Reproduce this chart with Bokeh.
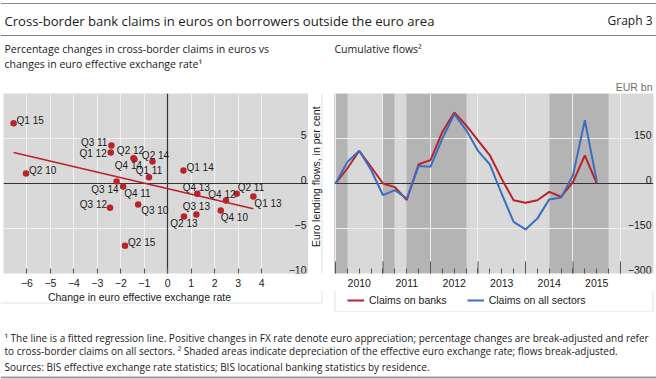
from bokeh.plotting import figure
from bokeh.layouts import column, row
from bokeh.models import (Range1d, ColumnDataSource, Label, Legend, LegendItem,
                          FixedTicker, CustomJSTickFormatter)
from bokeh.core.properties import value
from bokeh.embed import file_html
from bokeh.resources import INLINE
import numpy as np

# ---------------- data: left panel (scatter) ----------------
quarters = ["Q2 10", "Q3 10", "Q4 10", "Q1 11", "Q2 11", "Q3 11", "Q4 11",
            "Q1 12", "Q2 12", "Q3 12", "Q4 12", "Q1 13", "Q2 13", "Q3 13",
            "Q4 13", "Q1 14", "Q2 14", "Q3 14", "Q4 14", "Q1 15", "Q2 15"]
fx_change = [-6.04, -1.26, 2.26, -0.80, 2.94, -2.40, -1.90,
             -2.43, -1.46, -2.46, 2.48, 3.65, 0.69, 1.22,
             1.26, 0.67, -0.65, -2.18, -1.42, -6.57, -1.82]
claims_change = [1.11, -2.33, -3.00, 0.70, -1.14, 4.22, -0.33,
                 3.44, 2.81, -2.70, -1.89, -1.44, -3.67, -3.44,
                 -1.14, 1.44, 2.44, 0.22, 2.70, 6.70, -6.92]
left_xticks = [-6, -5, -4, -3, -2, -1, 0, 1, 2, 3, 4]
left_yticks = [5, 0, -5, -10]
left_ytick_labels = ["5", "0", "\u22125", "\u221210"]

# ---------------- data: right panel (cumulative flows) ----------------
flow_dates = [2010.0, 2010.25, 2010.5, 2010.75, 2011.0, 2011.25, 2011.5, 2011.75,
              2012.0, 2012.25, 2012.5, 2012.75, 2013.0, 2013.25, 2013.5, 2013.75,
              2014.0, 2014.25, 2014.5, 2014.75, 2015.0, 2015.25, 2015.5]
claims_banks = [0, 50, 109, 55, 0, -12, -55, 64, 78, 172, 237, 194, 144, 94,
                15, -56, -64, -56, -28, -44, 5, 94, 0]
claims_all = [0, 72, 109, 45, -39, -22, -50, 58, 56, 150, 231, 178, 109, 64,
              -35, -128, -153, -117, -53, -47, 28, 211, 8]
shade_start = [2009.75, 2011.0, 2011.5, 2014.5]
shade_end = [2010.25, 2011.25, 2012.75, 2015.75]
year_bounds = [2010, 2011, 2012, 2013, 2014, 2015, 2016]
year_mids = [2010.5, 2011.5, 2012.5, 2013.5, 2014.5, 2015.5]
quarter_ticks = [2010 + q / 4 for q in range(25)]
right_yticks = [150, 0, -150, -300]
right_ytick_labels = ["150", "0", "\u2212150", "\u2212300"]
series_names = ["Claims on banks", "Claims on all sectors"]

# ---------------- styles ----------------
RED = "#b9232d"
BLUE = "#3b6fbd"
BG = "#d9d9d9"
SHADE = "#b4b4b4"
DARK = "#333333"
TXT = "#1a1a1a"
BOX = "#e0e0e0"
CF = "Liberation Sans"
HF = "Open Sans"

# label placement (align, dx px, dy px upward) -- styling only
label_pos = {
    "Q1 15": ("left", 3, 3), "Q2 10": ("left", 3, 3), "Q3 11": ("right", -4, 3),
    "Q1 12": ("right", -4, -1), "Q2 12": ("center", -3, 8), "Q2 14": ("center", 3, 6),
    "Q4 14": ("center", -6, -6), "Q1 11": ("center", 0, 7), "Q3 14": ("right", 2, -8),
    "Q4 11": ("left", 1, -7), "Q3 12": ("right", -3, 3), "Q3 10": ("left", 3, -6),
    "Q2 15": ("left", 3, 3), "Q1 14": ("left", 3, 3), "Q4 13": ("center", -1, 6),
    "Q4 12": ("center", -4, 6), "Q2 11": ("left", 1, 6), "Q1 13": ("left", 1, -7),
    "Q3 13": ("center", 0, 8), "Q2 13": ("center", 0, -7), "Q4 10": ("left", 0, -7),
}

W = 656
H_HEAD = 91
H_MID = 199
H_SUB = 22
H_FOOT = 67


def blank(width, height):
    f = figure(width=width, height=height, x_range=Range1d(0, width), y_range=Range1d(height, 0),
               x_axis_location=None, y_axis_location=None, toolbar_location=None,
               output_backend="svg", min_border=0, outline_line_color=None, title=None)
    f.grid.visible = False
    return f


# ---------------- header ----------------
head = blank(W, H_HEAD)
head.line(x=[0, W], y=[3, 3], line_color="#8c8c8c", line_width=1)
head.line(x=[0, W], y=[35, 35], line_color="#7f7f7f", line_width=1)
head.add_layout(Label(x=4, y=20, text="Cross-border bank claims in euros on borrowers outside the euro area",
                      text_font=HF, text_font_size="13.1px", text_baseline="middle", text_color=TXT))
head.add_layout(Label(x=652, y=20, text="Graph 3", text_font=HF, text_font_size="12px",
                      text_baseline="middle", text_align="right", text_color=TXT))
head.add_layout(Label(x=4, y=48, text="Percentage changes in cross-border claims in euros vs",
                      text_font=HF, text_font_size="10.5px", text_baseline="middle", text_color=TXT))
head.add_layout(Label(x=4, y=63, text="changes in euro effective exchange rate\u00b9",
                      text_font=HF, text_font_size="10.5px", text_baseline="middle", text_color=TXT))
head.add_layout(Label(x=334, y=48, text="Cumulative flows\u00b2",
                      text_font=HF, text_font_size="10.5px", text_baseline="middle", text_color=TXT))
head.add_layout(Label(x=652, y=86, text="EUR bn", text_align="right",
                      text_baseline="middle", text_font=CF, text_font_size="10.5px",
                      text_color="#6e6e6e"))

# ---------------- left panel ----------------
left = figure(width=308, height=H_MID, x_range=Range1d(-7, 6), y_range=Range1d(-10, 10),
              x_axis_location="below", y_axis_location=None, toolbar_location=None,
              output_backend="svg", min_border_left=3, min_border_right=0,
              min_border_top=2, min_border_bottom=17, outline_line_color=None,
              background_fill_color=BG, title=None)
left.grid.visible = False
left.vspan(x=left_xticks, line_color="#f2f2f2", line_width=1)
left.hspan(y=[t for t in left_yticks if t not in (0, -10)], line_color="#f2f2f2", line_width=1)
left.vspan(x=[0], line_color=DARK, line_width=1.2)
left.hspan(y=[0], line_color=DARK, line_width=1.2)

slope, intercept = np.polyfit(fx_change, claims_change, 1)
xfit = np.array([min(fx_change), max(fx_change)])
left.line(x=xfit, y=slope * xfit + intercept, line_color=RED, line_width=1.6)

src = ColumnDataSource(dict(
    x=fx_change, y=claims_change, lab=quarters,
    align=[label_pos[q][0] for q in quarters],
    dx=[label_pos[q][1] for q in quarters],
    dy=[-label_pos[q][2] for q in quarters]))
left.scatter("x", "y", source=src, size=6.5, fill_color=RED, line_color=None)
left.text("x", "y", text="lab", source=src, x_offset="dx", y_offset="dy",
          text_align="align", text_baseline="middle", text_font=value(CF),
          text_font_size="10px", text_color=TXT)

left.text(x=[6] * len(left_yticks), y=left_yticks, text=left_ytick_labels, x_offset=-2,
          text_align="right", text_baseline="bottom", text_font=value(CF),
          text_font_size="10.5px", text_color=TXT)

ax = left.xaxis[0]
ax.ticker = FixedTicker(ticks=left_xticks)
ax.formatter = CustomJSTickFormatter(code="return tick < 0 ? '\u2212' + Math.abs(tick) : String(tick);")
ax.axis_line_color = None
ax.major_tick_in = 5
ax.major_tick_out = 0
ax.major_tick_line_color = "#555555"
ax.minor_tick_line_color = None
ax.major_label_standoff = 5
ax.major_label_text_font = CF
ax.major_label_text_font_size = "10.5px"
ax.major_label_text_color = TXT

# ---------------- y title strip between the panels ----------------
ytitle = blank(24, H_MID)
ytitle.line(x=[13.5, 13.5], y=[0, H_MID], line_color=BOX, line_width=1)
ytitle.add_layout(Label(x=7, y=92, text="Euro lending flows, in per cent", angle=np.pi / 2,
                        text_align="center", text_baseline="middle", text_font=CF,
                        text_font_size="10.5px", text_color=TXT))

# ---------------- right panel ----------------
right = figure(width=324, height=H_MID, x_range=Range1d(2009.979, 2016.695), y_range=Range1d(-300, 300),
               x_axis_location="below", y_axis_location=None, toolbar_location=None,
               output_backend="svg", min_border_left=2, min_border_right=3,
               min_border_top=2, min_border_bottom=17, outline_line_color=None,
               background_fill_color=BG, title=None)
right.grid.visible = False
right.vstrip(x0=shade_start, x1=shade_end, fill_color=SHADE, line_color=None)
right.vspan(x=year_bounds, line_color="#eeeeee", line_width=1)
right.hspan(y=[t for t in right_yticks if t not in (0, -300)], line_color="#eeeeee", line_width=1)
right.hspan(y=[0], line_color=DARK, line_width=1.2)
right.segment(x0=year_bounds, y0=[-300] * len(year_bounds), x1=year_bounds,
              y1=[-260] * len(year_bounds), line_color="#555555", line_width=1)

right.line(flow_dates, claims_banks, line_color=RED, line_width=2)
right.line(flow_dates, claims_all, line_color=BLUE, line_width=2)

right.text(x=[2016.695] * len(right_yticks), y=right_yticks, text=right_ytick_labels, x_offset=-2,
           text_align="right", text_baseline="bottom", text_font=value(CF),
           text_font_size="10.5px", text_color=TXT)

bx = right.xaxis[0]
bx.ticker = FixedTicker(ticks=year_mids, minor_ticks=quarter_ticks)
bx.formatter = CustomJSTickFormatter(code="return String(Math.floor(tick));")
bx.axis_line_color = None
bx.major_tick_in = 0
bx.major_tick_out = 0
bx.minor_tick_in = 5
bx.minor_tick_out = 0
bx.minor_tick_line_color = "#555555"
bx.major_label_standoff = 5
bx.major_label_text_font = CF
bx.major_label_text_font_size = "10.5px"
bx.major_label_text_color = TXT

# ---------------- strip under the panels: x title (left) and legend (right) ----------------
sub = blank(W, H_SUB)
# faint panel frames
sub.line(x=[0, 321.5, 321.5], y=[12.5, 12.5, 0], line_color=BOX, line_width=1)
sub.line(x=[334.5, 334.5, 652.5, 652.5], y=[0, 21.5, 21.5, 0], line_color=BOX, line_width=1)
sub.add_layout(Label(x=139, y=6, text="Change in euro effective exchange rate",
                     text_align="center", text_baseline="middle", text_font=CF,
                     text_font_size="10.5px", text_color=TXT))
# the same series, drawn off this strip's visible range, only to feed the legend
lg_banks = sub.line(flow_dates, claims_banks, line_color=RED, line_width=2)
lg_all = sub.line(flow_dates, claims_all, line_color=BLUE, line_width=2)
legend = Legend(items=[LegendItem(label=series_names[0], renderers=[lg_banks]),
                       LegendItem(label=series_names[1], renderers=[lg_all])],
                location=(347, 6), orientation="horizontal", padding=0, margin=0,
                spacing=20, glyph_width=17, glyph_height=12, label_height=12,
                label_standoff=5, border_line_color=None, background_fill_alpha=0,
                label_text_font=CF, label_text_font_size="10.5px", label_text_color=TXT)
sub.add_layout(legend)

# ---------------- footer ----------------
foot = blank(W, H_FOOT)
foot.line(x=[0, W], y=[H_FOOT - 2, H_FOOT - 2], line_color="#9a9a9a", line_width=2)
foot_lines = [
    (25, "\u00b9  The line is a fitted regression line. Positive changes in FX rate denote euro appreciation; percentage changes are break-adjusted and refer"),
    (38, "to cross-border claims on all sectors.    \u00b2  Shaded areas indicate depreciation of the effective euro exchange rate; flows break-adjusted."),
    (54, "Sources: BIS effective exchange rate statistics; BIS locational banking statistics by residence."),
]
for yy, t in foot_lines:
    foot.add_layout(Label(x=4, y=yy, text=t, text_font=HF, text_font_size="10px",
                          text_baseline="middle", text_color=TXT))

layout = column(head, row(left, ytitle, right), sub, foot)
open("out.html", "w").write(file_html(layout, INLINE))
